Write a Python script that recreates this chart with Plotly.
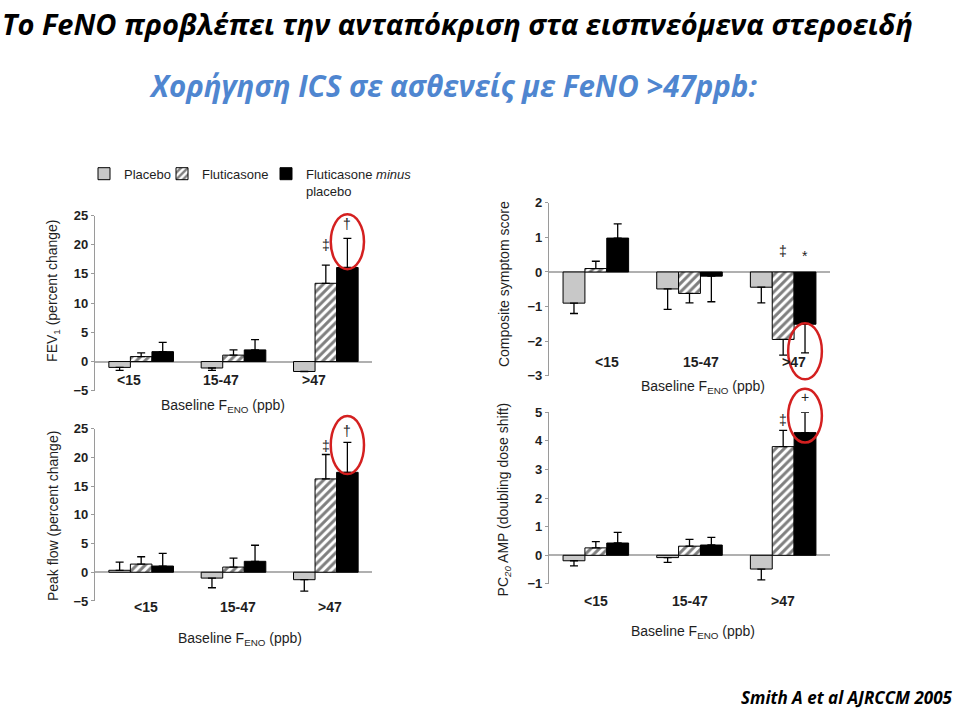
import plotly.graph_objects as go

# ---------------- data ----------------
categories = ["<15", "15-47", ">47"]
series_names = ["Placebo", "Fluticasone", "Fluticasone <i>minus</i><br>placebo"]

# FEV1 (percent change)
fev1_placebo = [-1.0, -1.1, -1.7]
fev1_placebo_err = [0.5, 0.4, 0.0]
fev1_flut = [0.85, 1.1, 13.4]
fev1_flut_err = [0.65, 0.9, 3.1]
fev1_diff = [1.7, 2.0, 16.1]
fev1_diff_err = [1.6, 1.75, 5.0]
fev1_flut_marks = ["", "", "‡"]
fev1_diff_marks = ["", "", "†"]

# Composite symptom score
sym_placebo = [-0.9, -0.49, -0.44]
sym_placebo_err = [0.3, 0.59, 0.45]
sym_flut = [0.1, -0.62, -1.95]
sym_flut_err = [0.21, 0.27, 0.45]
sym_diff = [0.98, -0.12, -1.51]
sym_diff_err = [0.41, 0.74, 0.83]
sym_flut_marks = ["", "", "‡"]
sym_diff_marks = ["", "", "*"]

# Peak flow (percent change)
pef_placebo = [0.34, -1.02, -1.3]
pef_placebo_err = [1.42, 1.68, 2.0]
pef_flut = [1.42, 0.9, 16.25]
pef_flut_err = [1.28, 1.54, 4.25]
pef_diff = [1.08, 1.9, 17.4]
pef_diff_err = [2.22, 2.8, 5.2]
pef_flut_marks = ["", "", "‡"]
pef_diff_marks = ["", "", "†"]

# PC20 AMP (doubling dose shift)
pc20_placebo = [-0.19, -0.08, -0.48]
pc20_placebo_err = [0.18, 0.17, 0.38]
pc20_flut = [0.26, 0.32, 3.8]
pc20_flut_err = [0.22, 0.24, 0.57]
pc20_diff = [0.43, 0.36, 4.29]
pc20_diff_err = [0.37, 0.27, 0.71]
pc20_flut_marks = ["", "", "‡"]
pc20_diff_marks = ["", "", "+"]

# ---------------- layout helpers ----------------
W, H = 960, 714
FONT = "Liberation Sans"
TITLE_FONT = "Open Sans"
TXT = "#1e1e1e"
GRAY = "#c8c8c8"
RED = "#d42020"

def px2x(p):
    return p / W

def px2y(p):
    return 1 - p / H

panels = [
    dict(vals=(fev1_placebo, fev1_flut, fev1_diff),
         errs=(fev1_placebo_err, fev1_flut_err, fev1_diff_err),
         marks=(fev1_flut_marks, fev1_diff_marks), mark_y=(20.0, 23.6),
         xpx=(95, 372), ypx=(213, 392), yr=(-5, 25), dtick=5,
         ytitle="FEV<sub>1</sub> (percent change)", ytitle_pos=(53, 290),
         xtitle_pos=(223, 408), cat_y=381, cat_dx=-0.13,
         ell=(15.8, 25.2)),
    dict(vals=(sym_placebo, sym_flut, sym_diff),
         errs=(sym_placebo_err, sym_flut_err, sym_diff_err),
         marks=(sym_flut_marks, sym_diff_marks), mark_y=(0.62, 0.45),
         xpx=(549, 830), ypx=(200, 376.7), yr=(-3, 2), dtick=1,
         ytitle="Composite symptom score", ytitle_pos=(504, 283),
         xtitle_pos=(703, 388), cat_y=363, cat_dx=0.12,
         ell=(-3.1, -1.48)),
    dict(vals=(pef_placebo, pef_flut, pef_diff),
         errs=(pef_placebo_err, pef_flut_err, pef_diff_err),
         marks=(pef_flut_marks, pef_diff_marks), mark_y=(22.0, 24.6),
         xpx=(95, 372), ypx=(430.7, 606.7), yr=(-5, 25), dtick=5,
         ytitle="Peak flow (percent change)", ytitle_pos=(53, 520),
         xtitle_pos=(240, 646), cat_y=613, cat_dx=0.05,
         ell=(17.1, 27.2)),
    dict(vals=(pc20_placebo, pc20_flut, pc20_diff),
         errs=(pc20_placebo_err, pc20_flut_err, pc20_diff_err),
         marks=(pc20_flut_marks, pc20_diff_marks), mark_y=(4.72, 5.55),
         xpx=(549, 830), ypx=(414, 589.3), yr=(-1, 5), dtick=1,
         ytitle="PC<sub><i>20</i></sub> AMP (doubling dose shift)", ytitle_pos=(504, 503),
         xtitle_pos=(693, 638), cat_y=607, cat_dx=0.0,
         ell=(3.94, 5.82)),
]

XR = (-0.5, 2.5)
BARGAP = 0.3

def dx2paper(p, v):
    a, b = p["xpx"]
    return px2x(a + (v - XR[0]) / (XR[1] - XR[0]) * (b - a))

def dy2paper(p, v):
    top, bot = p["ypx"]
    lo, hi = p["yr"]
    return px2y(bot - (v - lo) / (hi - lo) * (bot - top))

styles = [
    dict(color=GRAY, line=dict(color="black", width=1)),
    dict(color="white", line=dict(color="black", width=1),
         pattern=dict(shape="/", fgcolor="black", bgcolor="white", size=6, solidity=0.5)),
    dict(color="black", line=dict(color="black", width=1)),
]
legend_ids = ["legend", "legend2", "legend3"]
legend_x_px = [84, 162, 266]

fig = go.Figure()
xs = list(range(len(categories)))
annotations = []
shapes = []

for i, p in enumerate(panels):
    ax = "" if i == 0 else str(i + 1)
    for s in range(3):
        vals = p["vals"][s]
        errs = p["errs"][s]
        plus = [e if v >= 0 else 0 for v, e in zip(vals, errs)]
        minus = [e if v < 0 else 0 for v, e in zip(vals, errs)]
        fig.add_trace(go.Bar(
            x=xs, y=vals, name=series_names[s], legendgroup=series_names[s],
            legend=legend_ids[s], showlegend=(i == 0), marker=styles[s],
            error_y=dict(type="data", symmetric=False, array=plus, arrayminus=minus,
                         color="black", thickness=1.3, width=4),
            xaxis="x" + ax, yaxis="y" + ax, hoverinfo="skip",
        ))
    xd = (px2x(p["xpx"][0]), px2x(p["xpx"][1]))
    yd = (px2y(p["ypx"][1]), px2y(p["ypx"][0]))
    fig.update_layout(**{
        "xaxis" + ax: dict(domain=xd, range=list(XR), visible=False,
                           anchor="y" + ax),
        "yaxis" + ax: dict(domain=yd, range=list(p["yr"]), dtick=p["dtick"],
                           anchor="x" + ax, showgrid=False, showline=True,
                           linecolor="#9a9a9a", linewidth=1.2, ticks="outside",
                           ticklen=3, tickcolor="#9a9a9a", zeroline=True,
                           zerolinecolor="#b0b0b0", zerolinewidth=1.5,
                           tickfont=dict(family=FONT, size=13, color=TXT, weight="bold")),
    })
    # category labels
    for k, c in enumerate(categories):
        annotations.append(dict(
            x=dx2paper(p, k + p["cat_dx"]), y=px2y(p["cat_y"]), xref="paper", yref="paper",
            text=c, showarrow=False, xanchor="center", yanchor="middle",
            font=dict(family=FONT, size=14, color=TXT, weight="bold")))
    # axis titles
    annotations.append(dict(
        x=px2x(p["xtitle_pos"][0]), y=px2y(p["xtitle_pos"][1]), xref="paper", yref="paper",
        xanchor="center", yanchor="middle",
        text="Baseline F<sub>ENO</sub> (ppb)", showarrow=False,
        font=dict(family=FONT, size=14, color=TXT)))
    annotations.append(dict(
        x=px2x(p["ytitle_pos"][0]), y=px2y(p["ytitle_pos"][1]), xref="paper", yref="paper",
        xanchor="center", yanchor="middle",
        text=p["ytitle"], showarrow=False, textangle=-90,
        font=dict(family=FONT, size=14, color=TXT)))
    # significance marks
    bw = (1 - BARGAP) / 3
    for s, marks in enumerate(p["marks"]):
        for k, m in enumerate(marks):
            if m:
                annotations.append(dict(
                    x=dx2paper(p, k + s * bw), y=dy2paper(p, p["mark_y"][s]),
                    xref="paper", yref="paper", xanchor="center", yanchor="middle",
                    text=m, showarrow=False,
                    font=dict(family=FONT, size=14, color="#222222")))
    # red ellipse around the >47 "minus placebo" bar
    cx = 2 + bw
    shapes.append(dict(type="circle", xref="paper", yref="paper",
                       x0=dx2paper(p, cx - 0.18), x1=dx2paper(p, cx + 0.18),
                       y0=dy2paper(p, p["ell"][0]), y1=dy2paper(p, p["ell"][1]),
                       line=dict(color=RED, width=2.5), layer="above"))

# slide texts
annotations += [
    dict(x=0.0, y=px2y(17), xref="paper", yref="paper", xanchor="left", yanchor="middle",
         text="<b><i>Το FeNO προβλέπει την ανταπόκριση στα εισπνεόμενα στεροειδή</i></b>",
         showarrow=False, font=dict(family=TITLE_FONT, size=29, color="black")),
    dict(x=px2x(453), y=px2y(80), xref="paper", yref="paper", xanchor="center", yanchor="middle",
         text="<b><i>Χορήγηση ICS σε ασθενείς με FeNO >47ppb:</i></b>",
         showarrow=False, font=dict(family=TITLE_FONT, size=29.5, color="#4f86d0")),
    dict(x=px2x(955), y=px2y(705), xref="paper", yref="paper", xanchor="right", yanchor="middle",
         text="<b><i>Smith A et al AJRCCM 2005</i></b>",
         showarrow=False, font=dict(family=TITLE_FONT, size=17, color="black")),
]

legend_common = dict(orientation="h", xanchor="left", yanchor="top",
                     font=dict(family=FONT, size=13, color=TXT),
                     bgcolor="rgba(0,0,0,0)", valign="top", y=px2y(155))

fig.update_layout(
    width=W, height=H, margin=dict(l=0, r=0, t=0, b=0),
    paper_bgcolor="white", plot_bgcolor="white",
    barmode="group", bargap=BARGAP, bargroupgap=0,
    annotations=annotations, shapes=shapes,
    legend=dict(legend_common, x=px2x(legend_x_px[0])),
    legend2=dict(legend_common, x=px2x(legend_x_px[1])),
    legend3=dict(legend_common, x=px2x(legend_x_px[2])),
)

fig.write_html("out.html", config={"displayModeBar": False},
               post_script="document.body.style.margin='0';")
